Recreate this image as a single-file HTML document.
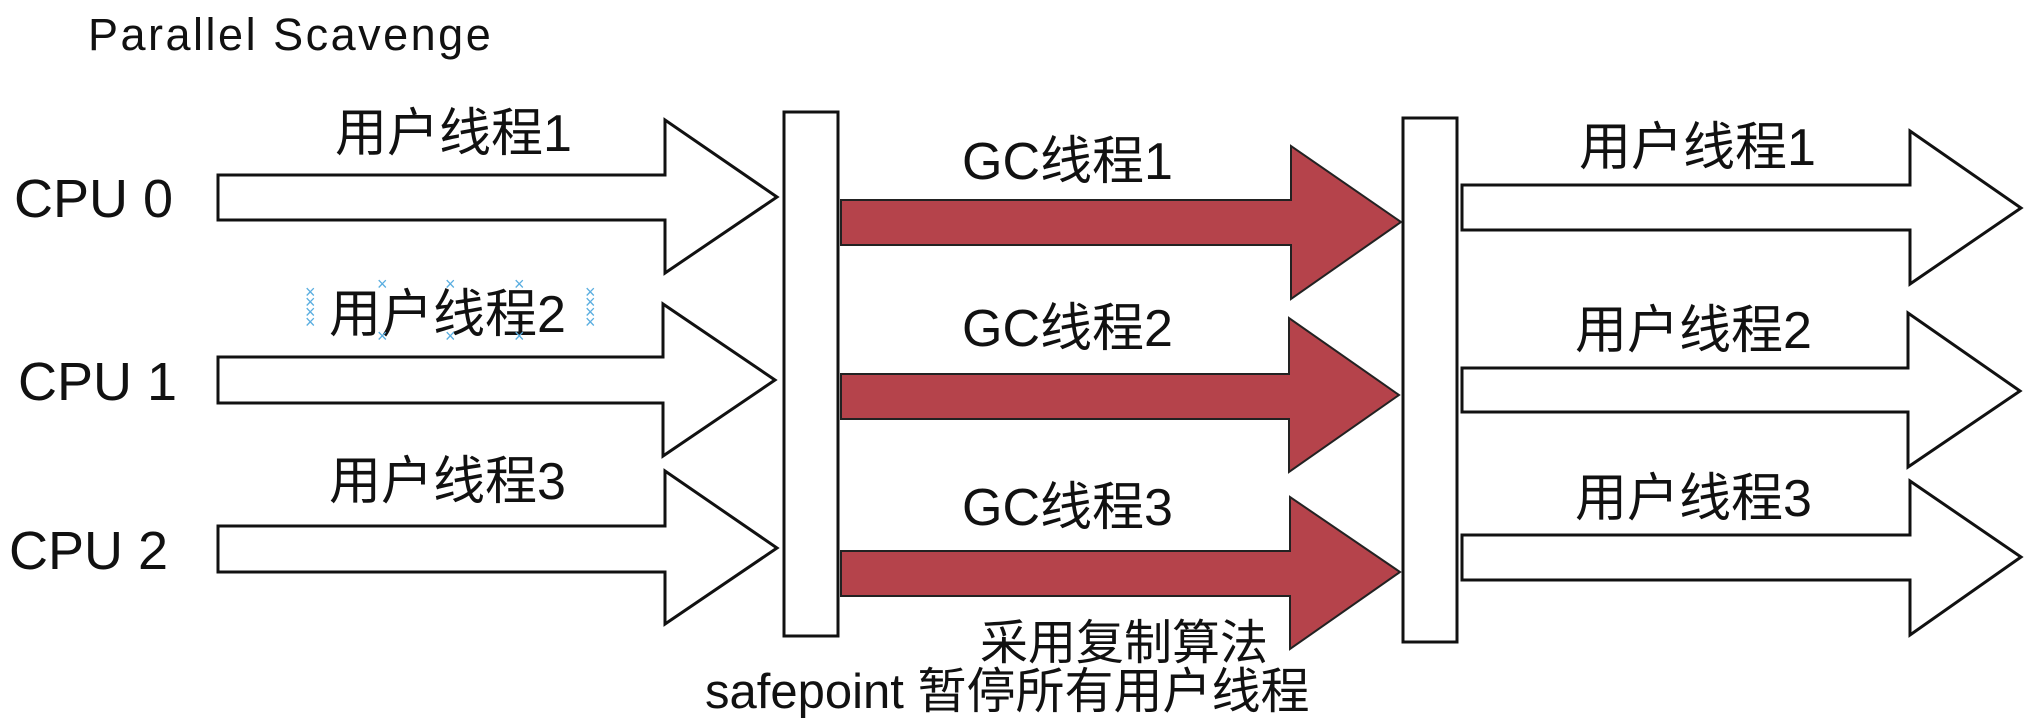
<!DOCTYPE html>
<html><head><meta charset="utf-8"><style>
html,body{margin:0;padding:0;background:#fff;}
svg{display:block;}
text{font-family:"Liberation Sans","Noto Sans CJK SC",sans-serif;fill:#111;}
text.x{fill:#5aaee0;}
</style></head><body>
<svg width="2030" height="728" viewBox="0 0 2030 728" xmlns="http://www.w3.org/2000/svg">
<g fill="#fff" stroke="#111" stroke-width="3" stroke-linejoin="miter">
<polygon points="218,175 665,175 665,120 777,197 665,273 665,220 218,220"/>
<polygon points="218,357 663,357 663,304 775,380 663,456 663,403 218,403"/>
<polygon points="218,526 665,526 665,471 777,548 665,624 665,572 218,572"/>
<rect x="784" y="112" width="54" height="524"/>
<rect x="1403" y="118" width="54" height="524"/>
<polygon points="1462,185 1910,185 1910,131 2021,208 1910,284 1910,230 1462,230"/>
<polygon points="1462,368 1908,368 1908,313 2020,391 1908,467 1908,412 1462,412"/>
<polygon points="1462,535 1910,535 1910,481 2021,557 1910,635 1910,580 1462,580"/>
</g>
<g fill="#b5434b" stroke="#222" stroke-width="2">
<polygon points="841,200 1291,200 1291,146 1401,222 1291,299 1291,245 841,245"/>
<polygon points="841,374 1289,374 1289,318 1399,395 1289,472 1289,419 841,419"/>
<polygon points="841,551 1290,551 1290,497 1400,572 1290,649 1290,596 841,596"/>
</g>
<text x="88" y="50" font-size="45" letter-spacing="2.5">Parallel Scavenge</text>
<text x="14" y="217" font-size="54">CPU 0</text>
<text x="18" y="400" font-size="54">CPU 1</text>
<text x="9" y="569" font-size="54">CPU 2</text>
<g font-size="52">
<text x="335" y="151">用户线程1</text>
<text x="329" y="332">用户线程2</text>
<text x="329" y="499">用户线程3</text>
<text x="962" y="179">GC线程1</text>
<text x="962" y="346">GC线程2</text>
<text x="962" y="525">GC线程3</text>
<text x="1579" y="165">用户线程1</text>
<text x="1575" y="348">用户线程2</text>
<text x="1575" y="516">用户线程3</text>
</g>
<text x="980" y="659" font-size="48">采用复制算法</text>
<text x="705" y="708" font-size="49">safepoint 暂停所有用户线程</text>
<g font-size="18">
<text class="x" x="305" y="298">×</text><text class="x" x="305" y="308">×</text><text class="x" x="305" y="318">×</text><text class="x" x="305" y="328">×</text>
<text class="x" x="585" y="298">×</text><text class="x" x="585" y="308">×</text><text class="x" x="585" y="318">×</text><text class="x" x="585" y="328">×</text>
<text class="x" x="377" y="290">×</text><text class="x" x="377" y="342">×</text>
<text class="x" x="445" y="290">×</text><text class="x" x="445" y="342">×</text>
<text class="x" x="514" y="290">×</text><text class="x" x="514" y="342">×</text>
</g>
</svg>
</body></html>
